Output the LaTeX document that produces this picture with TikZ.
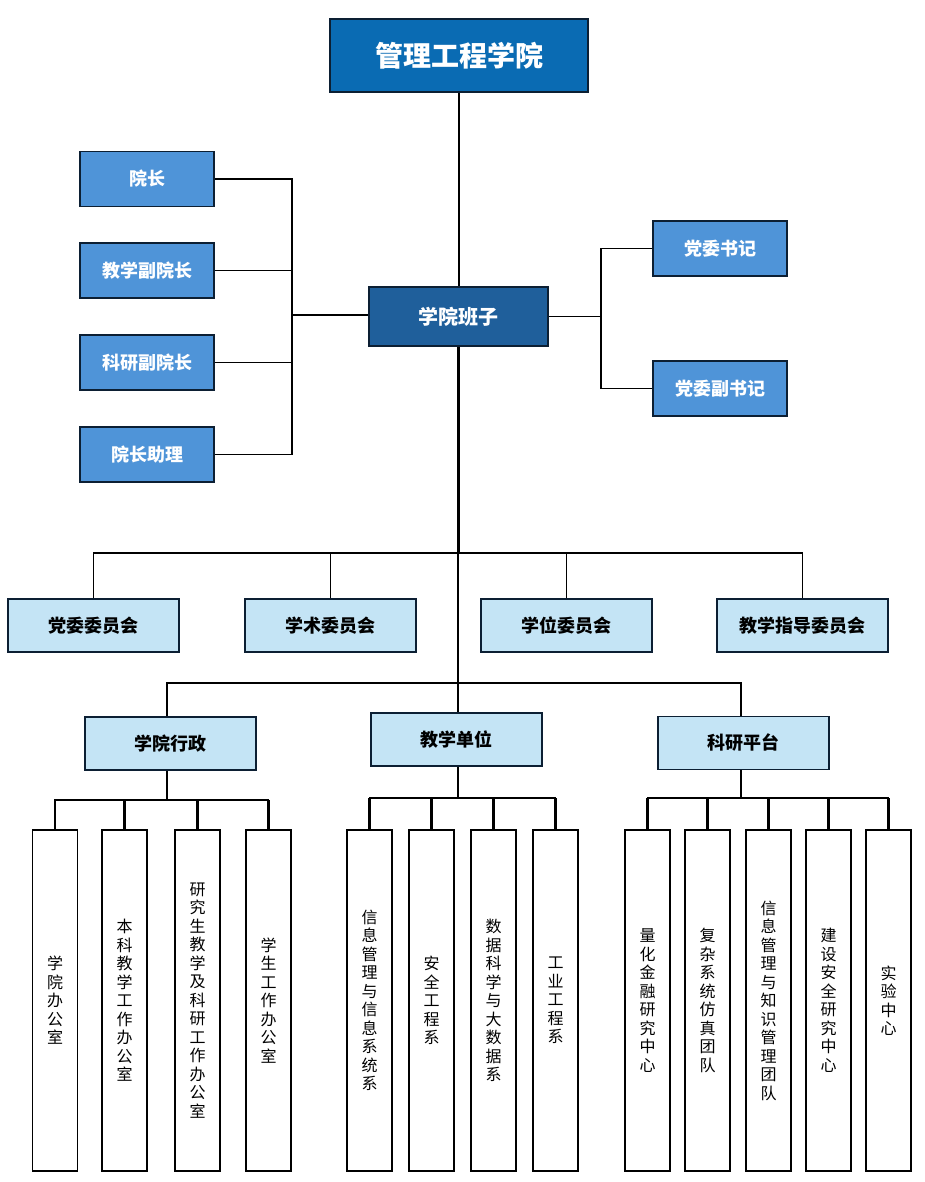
\documentclass[tikz,border=0pt]{standalone}
\usepackage{fontspec}
\setmainfont{Noto Sans CJK SC}
\usepackage{tikz}
\usetikzlibrary{positioning}
\definecolor{deanblue}{RGB}{10,107,179}
\definecolor{leadblue}{RGB}{79,148,216}
\definecolor{teamblue}{RGB}{31,95,155}
\definecolor{paleblue}{RGB}{196,228,245}
\definecolor{navyline}{RGB}{12,31,51}
\tikzset{
    box/.style={draw=navyline, line width=1.5pt, inner sep=0pt, align=center},
    deanbox/.style={box, fill=deanblue, text=white,
        minimum width=258pt, minimum height=73pt,
        font=\fontsize{28}{32}\selectfont\bfseries},
    leadbox/.style={box, fill=leadblue, text=white,
        minimum width=134pt, minimum height=55pt,
        font=\fontsize{18}{22}\selectfont\bfseries},
    teambox/.style={box, fill=teamblue, text=white,
        minimum width=179pt, minimum height=59pt,
        font=\fontsize{20}{24}\selectfont\bfseries},
    palebox/.style={box, fill=paleblue, text=black,
        minimum width=171pt, minimum height=53pt,
        font=\fontsize{18}{22}\selectfont\bfseries},
    tallbox/.style={box, draw=black, line width=1.2pt, fill=white,
        minimum width=45pt, minimum height=341pt,
        font=\fontsize{16}{18.5}\selectfont},
    link/.style={line width=1.5pt},
    trunk/.style={line width=2.5pt},
}

\begin{document}
\begin{tikzpicture}[x=1pt, y=-1pt]
    \useasboundingbox (0,0) rectangle (924,1182);

    % college
    \node[deanbox] (dean) at (459,55.5) {管理工程学院};

    % leadership
    \node[teambox] (team) at (458.5,316.5) {学院班子};
    \node[leadbox] (yz) at (147,179) {院长};
    \node[leadbox] (jxfyz) at (147,270.5) {教学副院长};
    \node[leadbox] (kyfyz) at (147,362.5) {科研副院长};
    \node[leadbox] (yzzl) at (147,454.5) {院长助理};
    \node[leadbox] (dwsj) at (720,248.5) {党委书记};
    \node[leadbox] (dwfsj) at (720,388.5) {党委副书记};

    % committees
    \node[palebox] (dwwyh) at (93.5,625.5) {党委委员会};
    \node[palebox] (xswyh) at (330.5,625.5) {学术委员会};
    \node[palebox] (xwwyh) at (566.5,625.5) {学位委员会};
    \node[palebox] (jxzdwyh) at (802.5,625.5) {教学指导委员会};

    % departments
    \node[palebox] (xzdept) at (170.5,743.5) {学院行政};
    \node[palebox] (jxdept) at (456.5,739.5) {教学单位};
    \node[palebox] (kydept) at (743.5,743) {科研平台};

    % offices
    \node[tallbox] (xz1) at (55,1000.5) {学\\院\\办\\公\\室};
    \node[tallbox] (xz2) at (124.5,1000.5) {本\\科\\教\\学\\工\\作\\办\\公\\室};
    \node[tallbox] (xz3) at (197.5,1000.5) {研\\究\\生\\教\\学\\及\\科\\研\\工\\作\\办\\公\\室};
    \node[tallbox] (xz4) at (268.5,1000.5) {学\\生\\工\\作\\办\\公\\室};

    % teaching units
    \node[tallbox] (jx1) at (369.5,1000.5) {信\\息\\管\\理\\与\\信\\息\\系\\统\\系};
    \node[tallbox] (jx2) at (431.5,1000.5) {安\\全\\工\\程\\系};
    \node[tallbox] (jx3) at (493.5,1000.5) {数\\据\\科\\学\\与\\大\\数\\据\\系};
    \node[tallbox] (jx4) at (555.5,1000.5) {工\\业\\工\\程\\系};

    % research platforms
    \node[tallbox] (ky1) at (647.5,1000.5) {量\\化\\金\\融\\研\\究\\中\\心};
    \node[tallbox] (ky2) at (707.5,1000.5) {复\\杂\\系\\统\\仿\\真\\团\\队};
    \node[tallbox] (ky3) at (768.5,1000.5) {信\\息\\管\\理\\与\\知\\识\\管\\理\\团\\队};
    \node[tallbox] (ky4) at (828.5,1000.5) {建\\设\\安\\全\\研\\究\\中\\心};
    \node[tallbox] (ky5) at (888.5,1000.5) {实\\验\\中\\心};

    % buses
    \coordinate (lbus) at (292,315);
    \coordinate (rbus) at (601,319);
    \coordinate (cbus) at (458,553);
    \coordinate (dbus) at (458,683);
    \coordinate (xzbus) at (167,800);
    \coordinate (jxbus) at (458,798);
    \coordinate (kybus) at (741,798);

    % connectors
    \draw[link] (dean.south) -- (dean.south |- team.north);
    \draw[link] (yz.east) -| (lbus) |- (yzzl.east);
    \draw[link] (jxfyz.east) -- (jxfyz.east -| lbus);
    \draw[link] (kyfyz.east) -- (kyfyz.east -| lbus);
    \draw[link] (lbus) -- (lbus -| team.west);
    \draw[link] (dwsj.west) -| (rbus) |- (dwfsj.west);
    \draw[link] (team.east) -- (team.east -| rbus);
    \draw[trunk] (team.south) -- (team.south |- cbus);
    \draw[link] (cbus) -- (dbus);
    \draw[link] (dwwyh.north) |- (cbus) -| (jxzdwyh.north);
    \draw[link] (xswyh.north) -- (xswyh.north |- cbus);
    \draw[link] (xwwyh.north) -- (xwwyh.north |- cbus);
    \draw[link] (xzdept.north -| xzbus) |- (dbus) -| (kydept.north -| kybus);
    \draw[link] (dbus) -- (dbus |- jxdept.north);

    \draw[trunk] (xzdept.south -| xzbus) -- (xzbus);
    \draw[link] (xz1.north) |- (xzbus) -| (xz4.north);
    \foreach \n in {xz1,xz2,xz3,xz4}
        \draw[trunk] (\n.north) -- (\n.north |- xzbus);

    \draw[trunk] (jxdept.south -| jxbus) -- (jxbus);
    \draw[link] (jx1.north) |- (jxbus) -| (jx4.north);
    \foreach \n in {jx1,jx2,jx3,jx4}
        \draw[trunk] (\n.north) -- (\n.north |- jxbus);

    \draw[trunk] (kydept.south -| kybus) -- (kybus);
    \draw[link] (ky1.north) |- (kybus) -| (ky5.north);
    \foreach \n in {ky1,ky2,ky3,ky4,ky5}
        \draw[trunk] (\n.north) -- (\n.north |- kybus);
\end{tikzpicture}
\end{document}
